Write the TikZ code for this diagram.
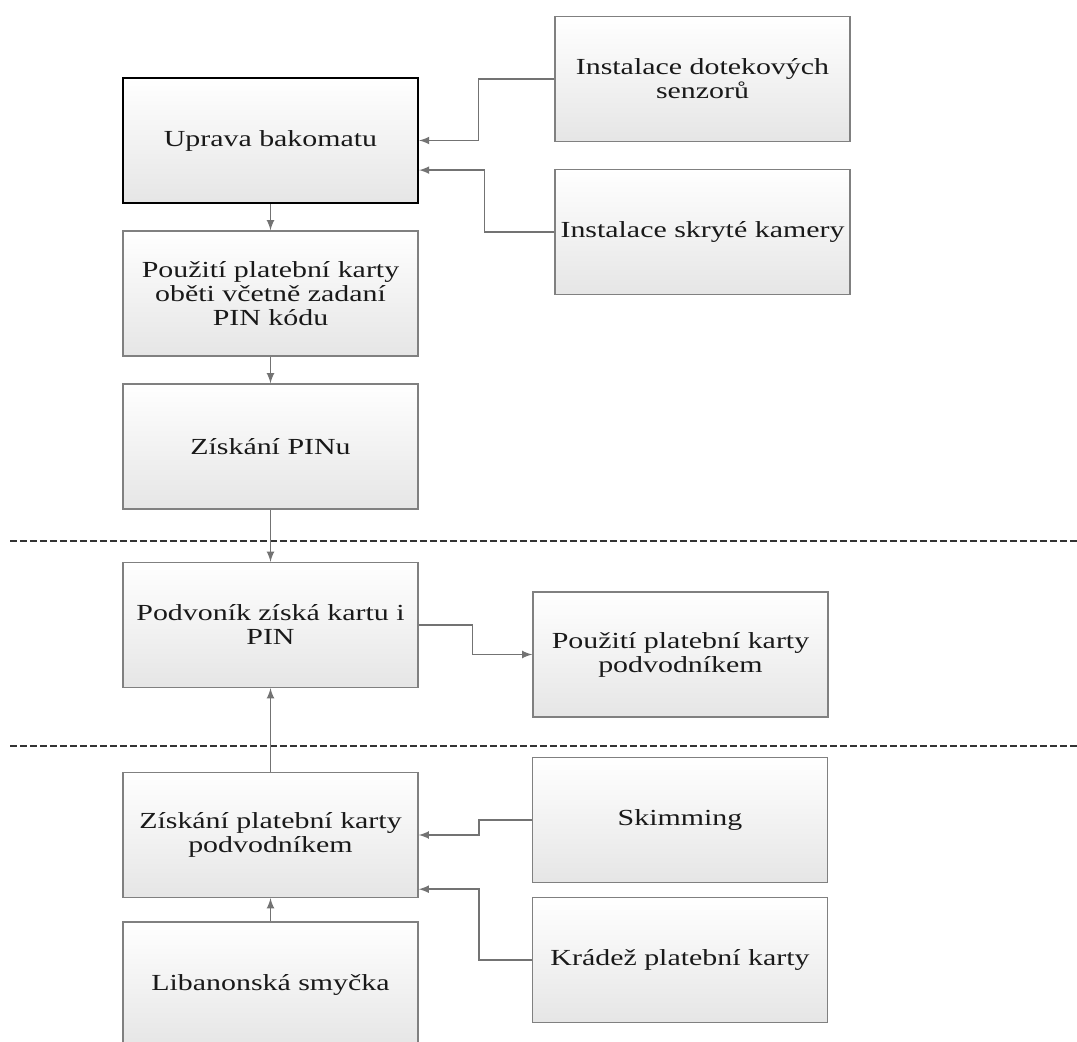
\documentclass[tikz,border=0pt]{standalone}
\usepackage{fontspec}
\setmainfont[FakeStretch=1.3]{Liberation Serif}
\tikzset{
  krok/.style={draw=black!50, line width=0.7pt, rectangle, top color=white, bottom color=black!10,
    minimum width=147.5pt, minimum height=62.5pt, inner sep=0pt, align=center,
    text=black!90, font=\fontsize{11.5}{12}\selectfont},
  spoj/.style={draw=black!55, line width=0.75pt},
  hranice/.style={draw=black!80, line width=0.7pt, dash pattern=on 3.5pt off 1.5pt}
}
\begin{document}
\begin{tikzpicture}[>=latex, x=0.5pt, y=-0.5pt]
\clip (0,0) rectangle (1077,1042);
\fill[white] (0,0) rectangle (1077,1042);

\node(Uprava)[krok, draw=black, line width=1.1pt] at (270.5,140.5) {Uprava bakomatu};
\node(Dotek)[krok] at (702.5,79) {Instalace dotekových\\senzorů};
\node(Kamera)[krok] at (702.5,232) {Instalace skryté kamery};
\node(Pouz)[krok] at (270.5,293.5) {Použití platební karty\\oběti včetně zadaní\\PIN kódu};
\node(Pin)[krok] at (270.5,446.5) {Získání PINu};

\node(Podv)[krok] at (270.5,625) {Podvoník získá kartu i\\PIN};
\node(PouzP)[krok] at (680.5,654.5) {Použití platební karty\\podvodníkem};

\node(Karta)[krok] at (270.5,835) {Získání platební karty\\podvodníkem};
\node(Skim)[krok] at (680,820) {Skimming};
\node(Kradez)[krok] at (680,960) {Krádež platební karty};
\node(Liban)[krok] at (270.5,984.5) {Libanonská smyčka};

\coordinate(H1a) at (10,541);
\coordinate(H1b) at (1077,541);
\coordinate(H2a) at (10,746);
\coordinate(H2b) at (1077,746);
\draw[hranice] (H1a) -- (H1b);
\draw[hranice] (H2a) -- (H2b);

\draw[spoj,->] (Dotek.west) -- ++(-76,0) |- (Uprava.east);
\draw[spoj,->] (Kamera.west) -- ++(-70,0) |- ([yshift=17pt]Uprava.south east);
\draw[spoj,->] (Uprava.south) -- (Pouz.north);
\draw[spoj,->] (Pouz.south) -- (Pin.north);
\draw[spoj,->] (Pin.south) -- (Podv.north);
\draw[spoj,->] (Podv.east) -- ++(54,0) |- (PouzP.west);
\draw[spoj,->] (Karta.north) -- (Podv.south);
\draw[spoj,->] (Skim.west) -- ++(-53,0) |- (Karta.east);
\draw[spoj,->] (Kradez.west) -- ++(-53,0) |- ([yshift=4.5pt]Karta.south east);
\draw[spoj,->] (Liban.north) -- (Karta.south);
\end{tikzpicture}
\end{document}
